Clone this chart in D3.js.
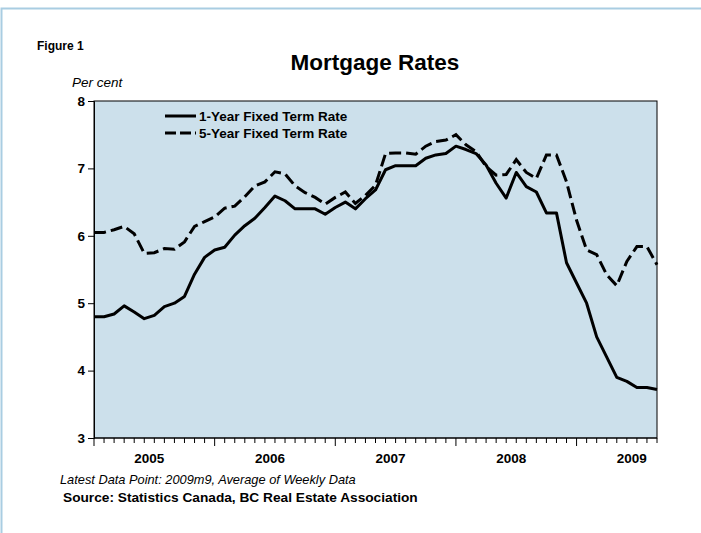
<!DOCTYPE html>
<html>
<head>
<meta charset="utf-8">
<script src="https://cdn.jsdelivr.net/npm/d3@7/dist/d3.min.js"></script>
<style>
  body { margin: 0; background: #fff; }
  text { font-family: "Liberation Sans", Arial, sans-serif; fill: #000; }
</style>
</head>
<body>
<div id="chart"></div>
<script>
// Monthly data, 2005m1 .. 2009m9
const startYear = 2005;
const years = [2005, 2006, 2007, 2008, 2009];
const oneYear = [4.80, 4.80, 4.84, 4.96, 4.87, 4.77, 4.82, 4.95, 5.00, 5.10, 5.43, 5.68,
                 5.79, 5.83, 6.01, 6.15, 6.26, 6.42, 6.59, 6.52, 6.40, 6.40, 6.40, 6.32,
                 6.42, 6.50, 6.40, 6.55, 6.68, 6.98, 7.04, 7.04, 7.04, 7.15, 7.20, 7.22,
                 7.33, 7.28, 7.22, 7.05, 6.78, 6.56, 6.94, 6.73, 6.65, 6.34, 6.34, 5.60,
                 5.30, 5.00, 4.50, 4.20, 3.90, 3.84, 3.75, 3.75, 3.72];
const fiveYear = [6.05, 6.05, 6.09, 6.14, 6.03, 5.74, 5.75, 5.81, 5.80, 5.91, 6.14, 6.21,
                  6.28, 6.41, 6.44, 6.58, 6.74, 6.80, 6.95, 6.92, 6.74, 6.64, 6.57, 6.47,
                  6.57, 6.65, 6.48, 6.60, 6.75, 7.22, 7.23, 7.23, 7.21, 7.33, 7.40, 7.42,
                  7.50, 7.35, 7.25, 7.03, 6.90, 6.91, 7.13, 6.94, 6.85, 7.20, 7.20, 6.80,
                  6.23, 5.79, 5.72, 5.42, 5.26, 5.62, 5.84, 5.84, 5.57];
const yTicks = [3, 4, 5, 6, 7, 8];
const seriesNames = ["1-Year Fixed Term Rate", "5-Year Fixed Term Rate"];

const width = 701, height = 533;
const margin = { left: 94, right: 44, top: 101, bottom: 95 };

const svg = d3.select("#chart").append("svg")
    .attr("width", width)
    .attr("height", height);

// outer light blue frame
svg.append("rect")
    .attr("x", 1.5).attr("y", 8.5)
    .attr("width", width + 10).attr("height", height + 10)
    .attr("fill", "none")
    .attr("stroke", "#a9cde2")
    .attr("stroke-width", 2);

const x = d3.scaleLinear()
    .domain([0, oneYear.length - 1])
    .range([margin.left, width - margin.right]);
const y = d3.scaleLinear()
    .domain([3, 8])
    .range([height - margin.bottom, margin.top]);

// plot background
svg.append("rect")
    .attr("x", x(0)).attr("y", y(8))
    .attr("width", x(oneYear.length - 1) - x(0))
    .attr("height", y(3) - y(8))
    .attr("fill", "#cce0eb")
    .attr("stroke", "#000")
    .attr("stroke-width", 1);

// y axis
const yAxis = d3.axisLeft(y).tickValues(yTicks).tickFormat(d3.format("d"))
    .tickSize(6).tickPadding(3);
const gy = svg.append("g")
    .attr("transform", `translate(${x(0)},0)`)
    .call(yAxis);
gy.select(".domain").attr("stroke", "#000");
gy.selectAll("text")
    .style("font-size", "13.5px")
    .style("font-weight", "bold");

// x axis: monthly ticks, longer at January
const months = d3.range(oneYear.length);
const gx = svg.append("g")
    .attr("transform", `translate(0,${y(3)})`);
gx.append("line")
    .attr("x1", x(0)).attr("x2", x(oneYear.length - 1))
    .attr("stroke", "#000");
gx.selectAll(".tick")
    .data(months)
    .enter().append("line")
    .attr("x1", d => x(d)).attr("x2", d => x(d))
    .attr("y1", 0)
    .attr("y2", d => d % 12 === 0 ? 8 : 5)
    .attr("stroke", "#000")
    .attr("stroke-width", 1);
gx.selectAll(".year")
    .data(years)
    .enter().append("text")
    .attr("x", d => x((d - startYear) * 12 + 5.5))
    .attr("y", 25)
    .attr("text-anchor", "middle")
    .style("font-size", "13.5px")
    .style("font-weight", "bold")
    .text(d => d);

// lines
const line = d3.line()
    .x((d, i) => x(i))
    .y(d => y(d));

svg.append("path")
    .datum(fiveYear)
    .attr("d", line)
    .attr("fill", "none")
    .attr("stroke", "#000")
    .attr("stroke-width", 3)
    .attr("stroke-dasharray", "12,5");

svg.append("path")
    .datum(oneYear)
    .attr("d", line)
    .attr("fill", "none")
    .attr("stroke", "#000")
    .attr("stroke-width", 3)
    .attr("stroke-linejoin", "round");

// legend
const legend = svg.append("g");
seriesNames.forEach((name, i) => {
    const ly = 116 + i * 17;
    legend.append("line")
        .attr("x1", 165).attr("x2", 196)
        .attr("y1", ly).attr("y2", ly)
        .attr("stroke", "#000")
        .attr("stroke-width", 3)
        .attr("stroke-dasharray", i === 1 ? "11,4" : null);
    legend.append("text")
        .attr("x", 199).attr("y", ly + 5)
        .style("font-size", "13.5px")
        .style("font-weight", "bold")
        .text(name);
});

// titles and notes
svg.append("text")
    .attr("x", 37).attr("y", 50)
    .style("font-size", "12px")
    .style("font-weight", "bold")
    .text("Figure 1");

svg.append("text")
    .attr("x", 375).attr("y", 70)
    .attr("text-anchor", "middle")
    .style("font-size", "22.5px")
    .style("font-weight", "bold")
    .text("Mortgage Rates");

svg.append("text")
    .attr("x", 72).attr("y", 87)
    .style("font-size", "13.5px")
    .style("font-style", "italic")
    .text("Per cent");

svg.append("text")
    .attr("x", 60).attr("y", 484)
    .style("font-size", "12.8px")
    .style("font-style", "italic")
    .text("Latest Data Point: 2009m9, Average of Weekly Data");

svg.append("text")
    .attr("x", 63).attr("y", 502)
    .style("font-size", "13.7px")
    .style("font-weight", "bold")
    .text("Source: Statistics Canada, BC Real Estate Association");
</script>
</body>
</html>
